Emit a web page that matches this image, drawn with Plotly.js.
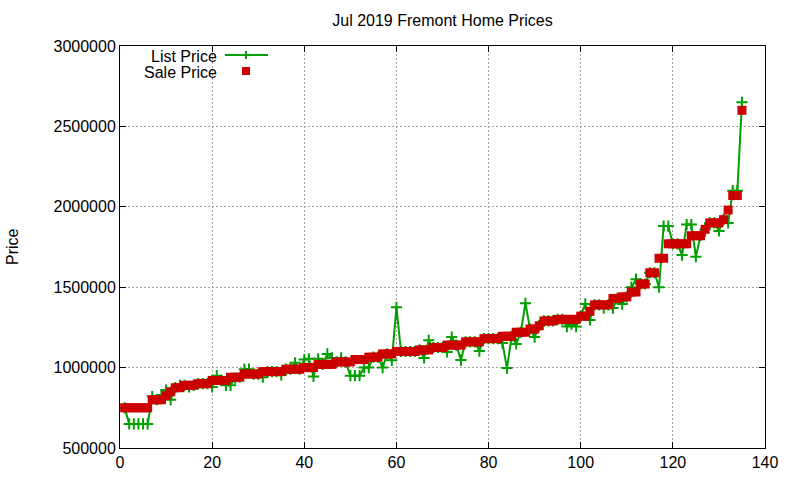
<!DOCTYPE html>
<html><head><meta charset="utf-8">
<script src="https://cdn.plot.ly/plotly-3.0.1.min.js"></script>
<style>html,body{margin:0;padding:0;background:#fff}#chart{width:800px;height:480px}</style>
</head><body><div id="chart"></div>
<script>
const salePrice = [
750000,750000,750000,750000,750000,750000,800000,800000,800000,825000,
850000,875000,875000,890000,890000,890000,900000,900000,900000,920000,
920000,920000,920000,940000,940000,940000,960000,960000,960000,960000,
975000,975000,975000,975000,975000,990000,990000,990000,990000,1000000,
1000000,1000000,1020000,1020000,1020000,1020000,1035000,1035000,1035000,1035000,
1050000,1050000,1050000,1065000,1065000,1065000,1085000,1085000,1085000,1100000,
1100000,1100000,1100000,1100000,1110000,1110000,1110000,1125000,1125000,1125000,
1140000,1140000,1140000,1140000,1160000,1160000,1160000,1160000,1180000,1180000,
1180000,1180000,1195000,1195000,1195000,1220000,1220000,1220000,1240000,1240000,
1260000,1290000,1290000,1290000,1300000,1300000,1300000,1300000,1300000,1320000,
1320000,1350000,1390000,1390000,1390000,1390000,1430000,1430000,1440000,1440000,
1470000,1470000,1520000,1520000,1590000,1590000,1680000,1680000,1770000,1770000,
1770000,1770000,1770000,1820000,1820000,1820000,1860000,1900000,1900000,1900000,
1920000,1980000,2070000,2070000,2600000];
const listPrice = [
750000,650000,650000,650000,650000,650000,820000,800000,830000,860000,
800000,875000,890000,890000,880000,890000,900000,900000,900000,880000,
950000,920000,890000,890000,935000,940000,990000,990000,960000,960000,
940000,975000,975000,975000,955000,990000,990000,1030000,990000,1050000,
1055000,945000,1055000,1020000,1085000,1060000,1035000,1060000,1035000,950000,
950000,950000,1000000,1000000,1065000,1065000,1000000,1085000,1045000,1375000,
1100000,1100000,1100000,1100000,1110000,1060000,1170000,1125000,1125000,1125000,
1097000,1190000,1140000,1047000,1160000,1160000,1160000,1103000,1180000,1180000,
1180000,1180000,1153000,997000,1195000,1147000,1220000,1400000,1240000,1190000,
1260000,1290000,1290000,1290000,1300000,1300000,1255000,1270000,1255000,1320000,
1396000,1296000,1390000,1390000,1370000,1390000,1370000,1430000,1395000,1440000,
1500000,1550000,1520000,1520000,1590000,1590000,1500000,1880000,1880000,1770000,
1770000,1700000,1890000,1890000,1690000,1820000,1860000,1900000,1900000,1850000,
1920000,1900000,2100000,2100000,2650000];
const homeIndex = salePrice.map((_, i) => i + 1);
const xTicks = [0, 20, 40, 60, 80, 100, 120, 140];
const yTicks = [500000, 1000000, 1500000, 2000000, 2500000, 3000000];

const GREEN = '#00a000', RED = '#cc0000';
const FONT = 'Liberation Sans, Arial, sans-serif';

const traces = [
  {x: homeIndex, y: listPrice, name: 'List Price', type: 'scatter', mode: 'lines+markers',
   line: {color: GREEN, width: 2},
   marker: {symbol: 'cross-thin-open', size: 8, line: {color: GREEN, width: 2}, color: GREEN},
   showlegend: false, hoverinfo: 'skip'},
  {x: homeIndex, y: salePrice, name: 'Sale Price', type: 'scatter', mode: 'markers',
   marker: {symbol: 'square', size: 9, color: RED, line: {width: 0}},
   showlegend: false, hoverinfo: 'skip'}
];

const axisCommon = {
  showline: true, mirror: 'allticks', linecolor: '#000', linewidth: 1,
  ticks: 'inside', ticklen: 6, tickcolor: '#000', tickwidth: 1,
  showgrid: true, gridcolor: '#a0a0a0', griddash: '2px,2px', gridwidth: 1,
  zeroline: false, tickfont: {family: FONT, size: 16, color: '#000'}
};

const L = 120, R = 765, T = 46, B = 448;
const px = v => (v - L) / (R - L);
const py = v => (B - v) / (B - T);

const layout = {
  width: 800, height: 480,
  margin: {l: 120, r: 35, t: 46, b: 32},
  paper_bgcolor: '#fff', plot_bgcolor: '#fff',
  font: {family: FONT, size: 16, color: '#000'},
  title: {text: 'Jul 2019 Fremont Home Prices', x: 0.5, xref: 'paper', y: 1 - 20/480, yanchor: 'middle',
          font: {family: FONT, size: 16, color: '#000'}},
  xaxis: Object.assign({}, axisCommon, {range: [0, 140], tickvals: xTicks, ticktext: xTicks.map(String)}),
  yaxis: Object.assign({}, axisCommon, {range: [500000, 3000000], tickvals: yTicks, ticktext: yTicks.map(String)}),
  annotations: [
    {text: 'Price', xref: 'paper', yref: 'paper', x: 0, y: 0.5, xshift: -108, textangle: -90,
     showarrow: false, xanchor: 'center', yanchor: 'middle', font: {family: FONT, size: 16}},
    {text: 'List Price', xref: 'paper', yref: 'paper', x: px(219), y: py(56), showarrow: false,
     xanchor: 'right', yanchor: 'middle', font: {family: FONT, size: 16}},
    {text: 'Sale Price', xref: 'paper', yref: 'paper', x: px(219), y: py(72), showarrow: false,
     xanchor: 'right', yanchor: 'middle', font: {family: FONT, size: 16}}
  ],
  shapes: [
    {type: 'line', xref: 'paper', yref: 'paper', x0: px(225), x1: px(268), y0: py(55), y1: py(55), line: {color: GREEN, width: 2}},
    {type: 'line', xref: 'paper', yref: 'paper', x0: px(246), x1: px(246), y0: py(51), y1: py(59), line: {color: GREEN, width: 2}},
    {type: 'rect', xref: 'paper', yref: 'paper', x0: px(242), x1: px(250), y0: py(67), y1: py(75), line: {width: 0}, fillcolor: RED}
  ]
};

Plotly.newPlot('chart', traces, layout, {staticPlot: true, displayModeBar: false});
</script>
</body></html>
